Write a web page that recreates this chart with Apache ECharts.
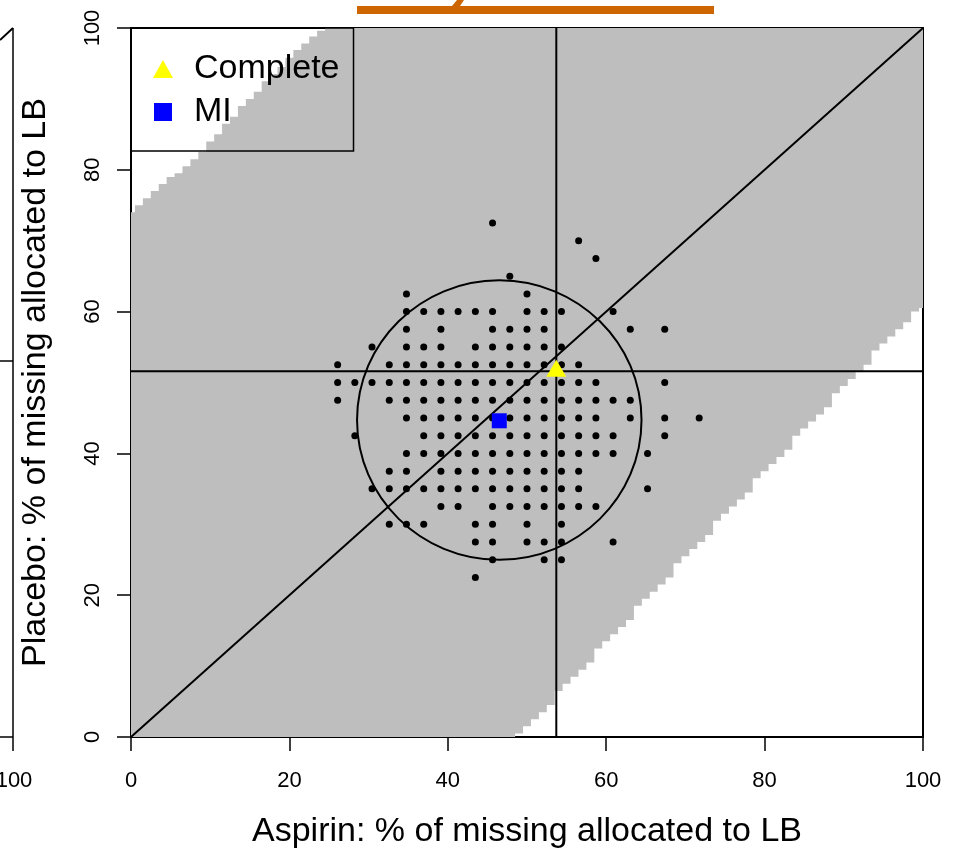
<!DOCTYPE html>
<html>
<head>
<meta charset="utf-8">
<script src="https://cdn.jsdelivr.net/npm/echarts@6/dist/echarts.min.js"></script>
<style>
  html, body { margin: 0; padding: 0; background: #ffffff; }
  #chart { width: 958px; height: 849px; }
</style>
</head>
<body>
<div id="chart"></div>
<script>
// ---- data ----------------------------------------------------------------
const axisMin = 0;
const axisMax = 100;
const axisStep = 20;

// Shaded region, one 1%-wide column per integer x.
// Upper edge (y) for columns x = 0, 1, 2, ...; columns further right reach 100.
const bandTop = [74, 75, 76, 77, 78, 79, 79.5, 80.5, 81.5, 82.5, 84, 85, 86.5, 87.5, 89, 90,
                 91, 92.5, 93.5, 94.5, 95.8, 96.9, 97.8, 98.8, 99.6];
// Lower edge (y) for columns x = bandBottomFrom ... 100; columns further left start at 0.
const bandBottomFrom = 49;
const bandBottom = [0.5, 1.5, 2.5, 3.5, 4.5, 6.5, 7.5, 8.5, 9.5, 10.5, 12.5, 13.5, 14.5, 15.5, 16.5,
                    18.5, 19.5, 20.5, 21.5, 22.5, 24.5, 25.5, 26.5, 27.5, 28.5, 30.5, 31.5, 32.5,
                    33.5, 34.5, 36.5, 37.5, 38.5, 39.5, 40.5, 42.5, 43.5, 44.5, 45.5, 46.5, 48.5,
                    49.5, 50.5, 51.5, 52.5, 54.5, 55.5, 56.5, 57.5, 58.5, 60, 60.5];

// Imputation results: placebo % (row) and the aspirin % values found on that row.
const dotRowY = [72.5, 70, 67.5, 65, 62.5, 60, 57.5, 55, 52.5, 50, 47.5, 45, 42.5, 40, 37.5, 35,
                 32.5, 30, 27.5, 25, 22.5];
const dotRowX = [
  [45.65],
  [56.52],
  [58.70],
  [47.83],
  [34.78, 50.00],
  [34.78, 36.96, 39.13, 41.30, 43.48, 45.65, 50.00, 52.17, 54.35, 60.87],
  [34.78, 39.13, 45.65, 47.83, 50.00, 52.17, 63.04, 67.39],
  [30.43, 34.78, 36.96, 39.13, 43.48, 45.65, 47.83, 50.00, 52.17, 54.35],
  [26.09, 32.61, 34.78, 36.96, 39.13, 41.30, 43.48, 45.65, 47.83, 50.00, 52.17, 54.35, 56.52],
  [26.09, 28.26, 30.43, 32.61, 34.78, 36.96, 39.13, 41.30, 43.48, 45.65, 47.83, 50.00, 52.17,
   54.35, 56.52, 58.70, 67.39],
  [26.09, 32.61, 34.78, 36.96, 39.13, 41.30, 43.48, 45.65, 47.83, 50.00, 52.17, 54.35, 56.52,
   58.70, 60.87, 63.04],
  [34.78, 36.96, 39.13, 41.30, 43.48, 45.65, 47.83, 50.00, 52.17, 54.35, 56.52, 58.70, 63.04,
   67.39, 71.74],
  [28.26, 36.96, 39.13, 41.30, 43.48, 45.65, 47.83, 50.00, 52.17, 54.35, 56.52, 58.70, 60.87, 67.39],
  [34.78, 36.96, 39.13, 41.30, 43.48, 45.65, 47.83, 50.00, 52.17, 54.35, 56.52, 58.70, 60.87, 65.22],
  [32.61, 34.78, 39.13, 41.30, 43.48, 45.65, 47.83, 50.00, 52.17, 54.35, 56.52],
  [30.43, 32.61, 34.78, 36.96, 39.13, 41.30, 43.48, 45.65, 47.83, 50.00, 52.17, 54.35, 56.52, 65.22],
  [39.13, 41.30, 45.65, 47.83, 50.00, 52.17, 54.35, 56.52, 58.70],
  [32.61, 34.78, 36.96, 43.48, 45.65, 50.00, 54.35],
  [43.48, 45.65, 50.00, 52.17, 54.35, 60.87],
  [45.65, 52.17, 54.35],
  [43.48]
];

// Complete-case and MI estimates
const completePoint = [53.7, 51.6];
const miPoint = [46.5, 44.6];

// Confidence region around the MI estimate: centre and half-widths (x, y)
const regionCenter = [46.5, 44.7];
const regionRadius = [17.96, 19.71];

// ---- helpers ---------------------------------------------------------------
function bandPolygon() {
  const pts = [];
  for (let k = axisMin; k <= axisMax; k++) {
    const top = k < bandTop.length ? bandTop[k] : axisMax;
    const x0 = Math.max(axisMin, k - 0.5), x1 = Math.min(axisMax, k + 0.5);
    pts.push([x0, top], [x1, top]);
  }
  for (let k = axisMax; k >= axisMin; k--) {
    const i = k - bandBottomFrom;
    const bot = i >= 0 ? bandBottom[i] : axisMin;
    const x0 = Math.max(axisMin, k - 0.5), x1 = Math.min(axisMax, k + 0.5);
    pts.push([x1, bot], [x0, bot]);
  }
  return pts;
}

const dots = [];
dotRowY.forEach((y, r) => dotRowX[r].forEach(x => dots.push([x, y])));

const FONT = '"Liberation Sans", Arial, Helvetica, sans-serif';
const BAND_FILL = '#BEBEBE';
const TRIANGLE_ICON = 'path://M10,0L20,18L0,18Z';
const SQUARE_ICON = 'path://M0,0L16,0L16,16L0,16Z';

const chart = echarts.init(document.getElementById('chart'), null, { renderer: 'canvas' });

const refLine = (pts) => ({
  type: 'line',
  data: pts,
  symbol: 'none',
  silent: true,
  z: 3,
  lineStyle: { color: '#000', width: 2 },
  animation: false
});

chart.setOption({
  animation: false,
  backgroundColor: '#ffffff',
  grid: {
    left: 131, top: 28, width: 792, height: 709,
    outerBoundsMode: 'none',
    containLabel: false,
    show: true, borderColor: '#000', borderWidth: 2, backgroundColor: 'transparent'
  },
  xAxis: {
    type: 'value', min: axisMin, max: axisMax, interval: axisStep,
    name: 'Aspirin: % of missing allocated to LB',
    nameLocation: 'middle', nameGap: 78,
    nameTextStyle: { fontFamily: FONT, fontSize: 34, color: '#000' },
    axisLine: { show: false },
    axisTick: { show: true, inside: false, length: 14, lineStyle: { color: '#000', width: 1.5 } },
    axisLabel: { fontFamily: FONT, fontSize: 22, color: '#000', margin: 33 },
    splitLine: { show: false }
  },
  yAxis: {
    type: 'value', min: axisMin, max: axisMax, interval: axisStep,
    name: 'Placebo: % of missing allocated to LB',
    nameLocation: 'middle', nameGap: 78,
    nameTextStyle: { fontFamily: FONT, fontSize: 34, color: '#000' },
    axisLine: { show: false },
    axisTick: { show: true, inside: false, length: 14, lineStyle: { color: '#000', width: 1.5 } },
    axisLabel: { fontFamily: FONT, fontSize: 22, color: '#000', margin: 27, rotate: 90 },
    splitLine: { show: false }
  },
  legend: {
    data: [
      { name: 'Complete', icon: TRIANGLE_ICON },
      { name: 'MI', icon: SQUARE_ICON }
    ],
    orient: 'vertical',
    left: 131, top: 28,
    padding: [22, 14, 20, 22],
    itemWidth: 20, itemHeight: 18, itemGap: 5,
    backgroundColor: 'transparent',
    borderColor: '#000', borderWidth: 1.5, borderRadius: 0,
    textStyle: { fontFamily: FONT, fontSize: 34, color: '#000', lineHeight: 38, padding: [0, 0, 0, 16] },
    selectedMode: false
  },
  graphic: [
    // right edge of the neighbouring panel
    { type: 'line', shape: { x1: 13, y1: 28, x2: 13, y2: 737 }, style: { stroke: '#000', lineWidth: 1.5 } },
    { type: 'line', shape: { x1: 0, y1: 40, x2: 13, y2: 28 }, style: { stroke: '#000', lineWidth: 2 } },
    { type: 'line', shape: { x1: 0, y1: 737, x2: 13, y2: 737 }, style: { stroke: '#000', lineWidth: 1.5 } },
    { type: 'line', shape: { x1: 0, y1: 361, x2: 13, y2: 361 }, style: { stroke: '#000', lineWidth: 1.5 } },
    { type: 'line', shape: { x1: 13, y1: 737, x2: 13, y2: 751 }, style: { stroke: '#000', lineWidth: 1.5 } },
    { type: 'text', x: 14, y: 781, style: { text: '100', font: '22px ' + FONT, fill: '#000', textAlign: 'center', textVerticalAlign: 'middle' } },
    // underlined heading
    { type: 'rect', shape: { x: 357, y: 6, width: 357, height: 8 }, style: { fill: '#CD6600' } },
    { type: 'polygon', shape: { points: [[452, 6], [460, 6], [464, 0], [457, 0]] }, style: { fill: '#CD6600' } }
  ],
  series: [
    {
      type: 'custom',
      name: 'band',
      coordinateSystem: 'cartesian2d',
      clip: true,
      silent: true,
      z: 1,
      data: [[axisMin, axisMin]],
      renderItem: function (params, api) {
        return {
          type: 'polygon',
          shape: { points: bandPolygon().map(p => api.coord(p)) },
          style: { fill: BAND_FILL, stroke: null }
        };
      }
    },
    refLine([[axisMin, axisMin], [axisMax, axisMax]]),
    refLine([[completePoint[0], axisMin], [completePoint[0], axisMax]]),
    refLine([[axisMin, completePoint[1]], [axisMax, completePoint[1]]]),
    {
      type: 'custom',
      name: 'region',
      coordinateSystem: 'cartesian2d',
      silent: true,
      z: 3,
      data: [regionCenter],
      renderItem: function (params, api) {
        const c = api.coord(regionCenter);
        const s = api.size(regionRadius);
        return {
          type: 'ellipse',
          shape: { cx: c[0], cy: c[1], rx: s[0], ry: s[1] },
          style: { fill: 'none', stroke: '#000', lineWidth: 2 }
        };
      }
    },
    {
      type: 'scatter',
      name: 'imputations',
      data: dots,
      symbol: 'circle',
      symbolSize: 7,
      itemStyle: { color: '#000', opacity: 1 },
      z: 4,
      silent: true
    },
    {
      type: 'scatter',
      name: 'Complete',
      data: [completePoint],
      symbol: 'triangle',
      symbolSize: [20, 17],
      symbolOffset: [0, -3],
      itemStyle: { color: '#FFFF00', opacity: 1 },
      z: 5
    },
    {
      type: 'scatter',
      name: 'MI',
      data: [miPoint],
      symbol: 'rect',
      symbolSize: 15,
      itemStyle: { color: '#0000FF', opacity: 1 },
      z: 5
    }
  ]
});
</script>
</body>
</html>
